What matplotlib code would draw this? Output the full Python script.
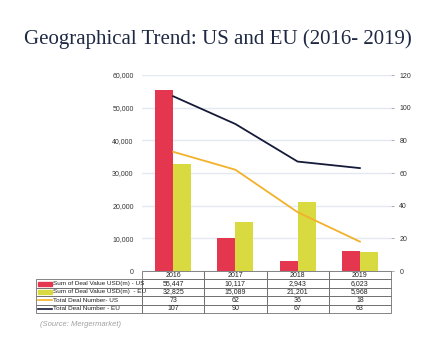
import matplotlib
matplotlib.use("Agg")
import matplotlib.pyplot as plt
from matplotlib.patches import Rectangle
from matplotlib.lines import Line2D

# data
years = ["2016", "2017", "2018", "2019"]
value_us = [55447, 10117, 2943, 6023]
value_eu = [32825, 15089, 21201, 5968]
deals_us = [73, 62, 36, 18]
deals_eu = [107, 90, 67, 63]
row_names = ["Sum of Deal Value USD(m) - US", "Sum of Deal Value USD(m)  - EU",
             "Total Deal Number- US", "Total Deal Number - EU"]

RED = "#e53650"
YEL = "#d8da40"
ORA = "#f4b12a"
NAVY = "#151a38"
GRID = "#e4e8f0"
EDGE = "#707070"

plt.rcParams["font.family"] = ["Liberation Sans", "DejaVu Sans"]

fig = plt.figure(figsize=(4.36, 3.43), dpi=100)
fig.text(0.5, 0.885, "Geographical Trend: US and EU (2016- 2019)", ha="center", va="center",
         fontsize=15, family="Liberation Serif", color="#1f2944")

W, H = 436, 343
ax = fig.add_axes([142 / W, 1 - 271 / H, 249 / W, 196 / H])
x = range(len(years))
bw = 0.29
ax.bar([i - bw / 2 for i in x], value_us, bw, color=RED, zorder=2)
ax.bar([i + bw / 2 for i in x], value_eu, bw, color=YEL, zorder=2)
ax.set_xlim(-0.5, 3.5)
ax.set_ylim(0, 60000)
ax.set_yticks(range(0, 60001, 10000))
ax.set_yticklabels([f"{v:,}" for v in range(0, 60001, 10000)])
ax.yaxis.grid(True, color=GRID, lw=1, zorder=0)
ax.set_axisbelow(True)
ax.tick_params(axis="y", length=0, labelsize=5, labelcolor="#333333", pad=6)
ax.set_xticks([])
for s in ax.spines.values():
    s.set_visible(False)

ax2 = ax.twinx()
ax2.plot(list(x), deals_us, color=ORA, lw=1.3, zorder=3)
ax2.plot(list(x), deals_eu, color=NAVY, lw=1.3, zorder=3)
ax2.set_ylim(0, 120)
ax2.set_yticks(range(0, 121, 20))
ax2.tick_params(axis="y", length=2, width=0.5, color="#888888", labelsize=5,
                labelcolor="#333333", pad=4)
for s in ax2.spines.values():
    s.set_visible(False)

# data table, drawn by hand in pixel space (y measured from top)
cells = [[f"{v:,}" for v in value_us], [f"{v:,}" for v in value_eu],
         [str(v) for v in deals_us], [str(v) for v in deals_eu]]
tx0, tdiv, tx1 = 36, 142, 391
ty0, rh = 271, 8.4
colw = (tx1 - tdiv) / len(years)


def box(x0, y0, w, h):
    fig.add_artist(Rectangle((x0 / W, 1 - (y0 + h) / H), w / W, h / H, transform=fig.transFigure,
                             facecolor="none", edgecolor=EDGE, lw=0.6))


def txt(xp, yp, s, ha="center", size=5):
    fig.text(xp / W, 1 - yp / H, s, ha=ha, va="center", fontsize=size, color="#222222")


for j, yr in enumerate(years):
    box(tdiv + j * colw, ty0, colw, rh)
    txt(tdiv + (j + 0.5) * colw, ty0 + rh / 2, yr)
keys = [("bar", RED), ("bar", YEL), ("line", ORA), ("line", NAVY)]
for i, name in enumerate(row_names):
    y0 = ty0 + rh * (i + 1)
    yc = y0 + rh / 2
    box(tx0, y0, tdiv - tx0, rh)
    kind, col = keys[i]
    if kind == "bar":
        fig.add_artist(Rectangle((38 / W, 1 - (yc + 2) / H), 14 / W, 4 / H,
                                 transform=fig.transFigure, color=col))
    else:
        fig.add_artist(Line2D([38 / W, 52 / W], [1 - yc / H, 1 - yc / H],
                              transform=fig.transFigure, color=col, lw=1.2))
    txt(53, yc, name, ha="left", size=4.6)
    for j in range(len(years)):
        box(tdiv + j * colw, y0, colw, rh)
        txt(tdiv + (j + 0.5) * colw, yc, cells[i][j])

fig.text(40 / W, 1 - 325 / H, "(Source: Mergermarket)", fontsize=5.5, style="italic",
         color="#a0a0a0", va="center")

fig.savefig("out.png", dpi=100)
